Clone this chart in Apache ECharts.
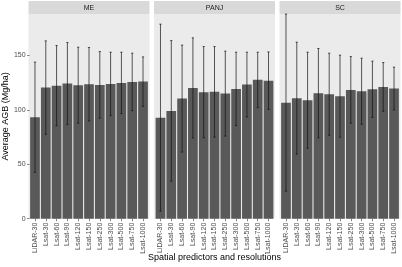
<!DOCTYPE html>
<html><head><meta charset="utf-8">
<script src="https://cdn.jsdelivr.net/npm/echarts@6/dist/echarts.min.js"></script>
<style>html,body{margin:0;padding:0;background:#fff}#c{width:402px;height:267px}</style>
</head><body><div id="c"></div>
<script>
const categories = ['LiDAR-30','Lsat-30','Lsat-60','Lsat-90','Lsat-120','Lsat-150','Lsat-250','Lsat-300','Lsat-500','Lsat-750','Lsat-1000'];
const panels = ['ME','PANJ','SC'];
const meMean = [93.2,120.4,122.2,124.1,122.6,123.5,122.9,123.8,124.7,125.6,125.9];
const meSd   = [50.6,42.9,36.8,37.7,34.9,33.7,30.6,29.1,28.2,26.4,22.7];
const panjMean = [92.8,99.0,110.3,120.1,116.2,116.5,114.9,119.2,123.2,127.5,126.8];
const panjSd   = [85.9,64.6,49.1,46.0,41.9,41.6,39.0,33.7,29.7,25.4,26.4];
const scMean = [106.6,110.7,108.8,115.3,114.3,112.5,118.3,117.1,118.9,121.0,119.5];
const scSd   = [81.3,51.4,44.1,41.0,37.7,37.7,30.6,30.3,25.8,22.4,19.7];
const yTicks = [0,50,100,150];
const yMax = 188;

(function(){
const means = [meMean, panjMean, scMean];
const sds = [meSd, panjSd, scSd];

const panelX = [[28.5,149.5],[154,275],[279.5,400.5]];
const gTop = 14, gBottom = 218.7;
const font = 'Liberation Sans, Arial, sans-serif';

const grids = [], xAxes = [], yAxes = [], series = [], graphics = [];
panelX.forEach((p, i) => {
  const w = p[1] - p[0];
  const unit = w / 11.2;
  const inset = unit * 0.1;
  graphics.push({type:'rect', shape:{x:p[0], y:gTop, width:w, height:gBottom-gTop}, style:{fill:'#ebebeb'}, z:-10});
  graphics.push({type:'rect', shape:{x:p[0], y:1, width:w, height:gTop-1}, style:{fill:'#d9d9d9'}, z:-10});
  graphics.push({type:'text', x:p[0]+w/2, y:(1+gTop)/2+0.5, style:{text:panels[i], fill:'#1a1a1a', font:'7px '+font, textAlign:'center', textVerticalAlign:'middle'}, z:10});
  grids.push({left:p[0]+inset, width:w-2*inset, top:gTop, height:gBottom-gTop, containLabel:false});
  xAxes.push({type:'category', gridIndex:i, data:categories, boundaryGap:true,
    axisLine:{show:false}, axisTick:{show:true, alignWithLabel:true, length:2.5, lineStyle:{color:'#333', width:0.6}},
    axisLabel:{rotate:90, fontSize:7, color:'#4d4d4d', fontFamily:font, margin:4, interval:0}, splitLine:{show:false}});
  yAxes.push({type:'value', gridIndex:i, min:0, max:yMax, interval:50,
    axisLine:{show:false}, splitLine:{show:false},
    axisTick:{show:i===0, length:2.5, lineStyle:{color:'#333', width:0.6}, customValues:yTicks},
    axisLabel:{show:i===0, fontSize:7, color:'#4d4d4d', fontFamily:font, margin:4, customValues:yTicks},
    name: i===0 ? 'Average AGB (Mg/ha)' : '', nameLocation:'middle', nameGap:18,
    nameTextStyle:{fontSize:9, color:'#000', fontFamily:font}});
  series.push({type:'bar', xAxisIndex:i, yAxisIndex:i, data:means[i], barCategoryGap:'10%',
    itemStyle:{color:'#595959'}, silent:true, animation:false});
  series.push({type:'custom', xAxisIndex:i, yAxisIndex:i, animation:false, silent:true, z:5,
    data: means[i].map((m, k) => [k, m - sds[i][k], m + sds[i][k]]),
    renderItem: (params, api) => {
      const x = api.value(0);
      const pT = api.coord([x, api.value(2)]);
      const pB = api.coord([x, api.value(1)]);
      const c = 1.1;
      const st = {stroke:'#111', lineWidth:0.7};
      return {type:'group', children:[
        {type:'line', shape:{x1:pT[0], y1:pT[1], x2:pB[0], y2:pB[1]}, style:st},
        {type:'line', shape:{x1:pT[0]-c, y1:pT[1], x2:pT[0]+c, y2:pT[1]}, style:st},
        {type:'line', shape:{x1:pB[0]-c, y1:pB[1], x2:pB[0]+c, y2:pB[1]}, style:st}
      ]};
    }});
});
graphics.push({type:'text', x:(panelX[0][0]+panelX[2][1])/2, y:258, style:{text:'Spatial predictors and resolutions', fill:'#000', font:'9px '+font, textAlign:'center', textVerticalAlign:'middle'}});

const chart = echarts.init(document.getElementById('c'), null, {renderer:'canvas'});
chart.setOption({animation:false, backgroundColor:'#fff', grid:grids, xAxis:xAxes, yAxis:yAxes, series:series, graphic:graphics});
})();
</script></body></html>
